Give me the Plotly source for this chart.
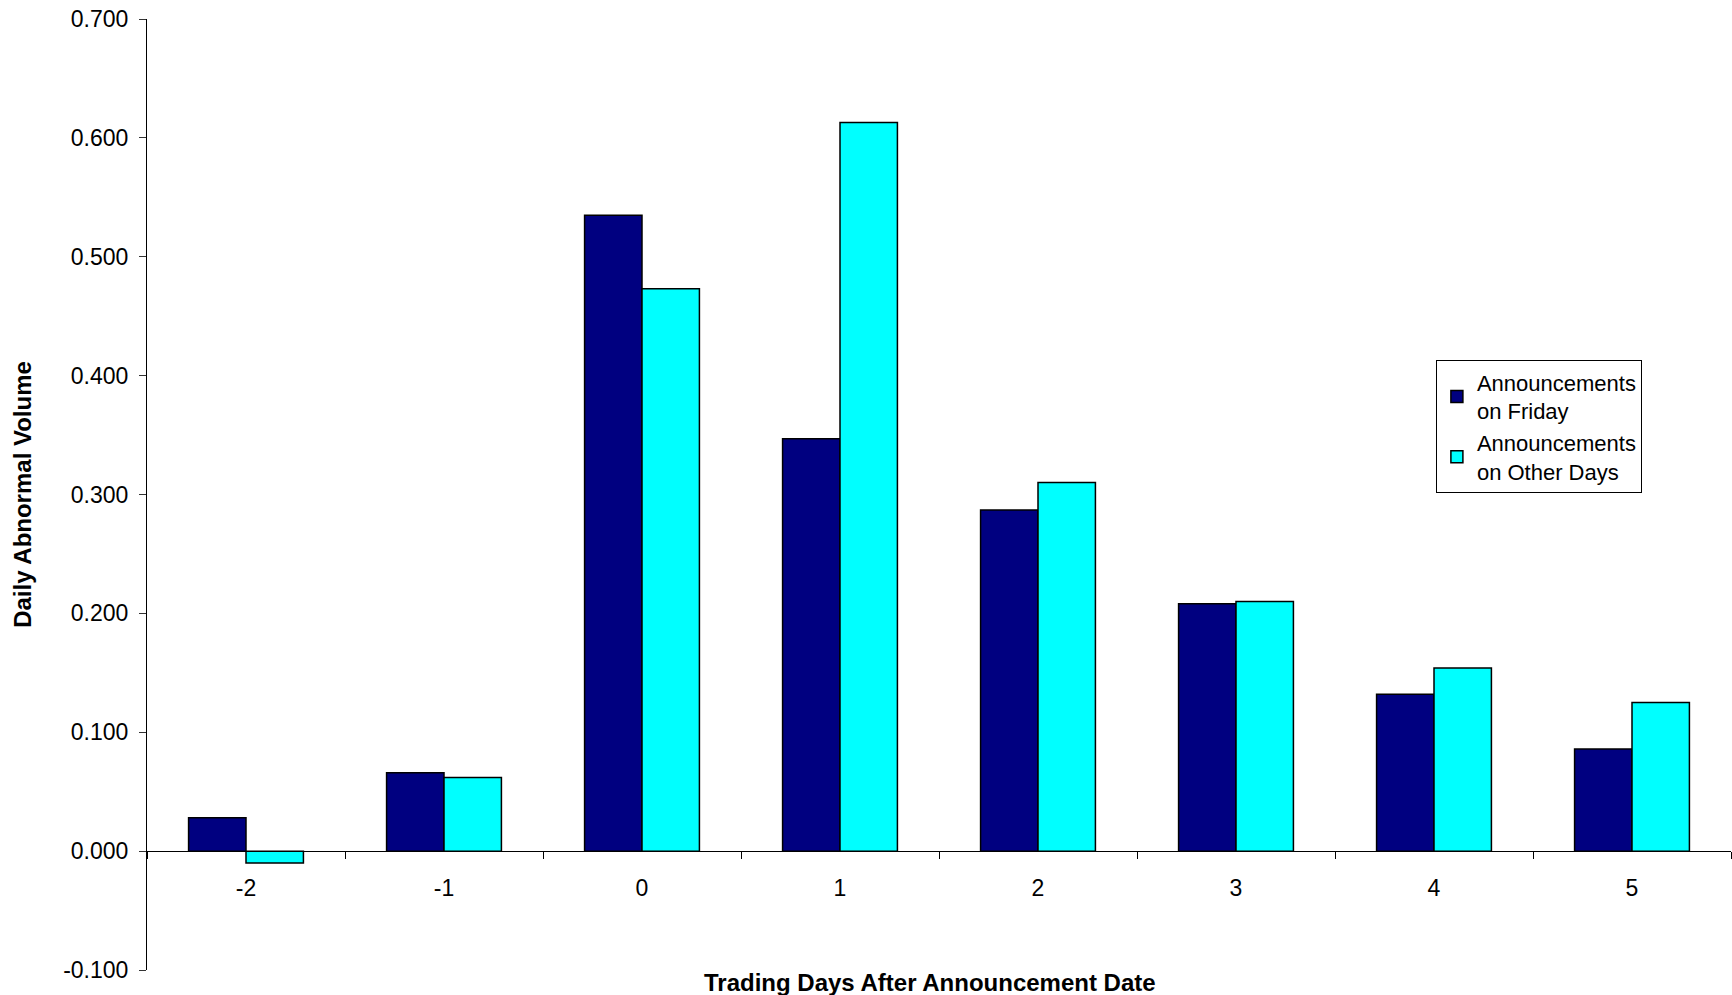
import plotly.graph_objects as go

days = ["-2", "-1", "0", "1", "2", "3", "4", "5"]
friday = [0.028, 0.066, 0.535, 0.347, 0.287, 0.208, 0.132, 0.086]
other_days = [-0.010, 0.062, 0.473, 0.613, 0.310, 0.210, 0.154, 0.125]
y_ticks = [-0.1, 0.0, 0.1, 0.2, 0.3, 0.4, 0.5, 0.6, 0.7]
y_tick_text = ["-0.100", "0.000", "0.100", "0.200", "0.300", "0.400", "0.500", "0.600", "0.700"]

FONT = "Liberation Sans, Arial, sans-serif"

fig = go.Figure()
fig.add_trace(go.Bar(
    x=days, y=friday, name="Announcements<br>on Friday",
    marker=dict(color="#000080", line=dict(color="black", width=1.5)),
))
fig.add_trace(go.Bar(
    x=days, y=other_days, name="Announcements<br>on Other Days",
    marker=dict(color="#00FFFF", line=dict(color="black", width=1.5)),
))

ymin, ymax = -0.1, 0.7
zero_pos = (0 - ymin) / (ymax - ymin)

fig.update_layout(
    width=1732, height=995,
    margin=dict(l=147, r=1, t=19, b=25),
    plot_bgcolor="white", paper_bgcolor="white",
    barmode="group", bargap=0.42, bargroupgap=0,
    font=dict(family=FONT, size=23, color="black"),
    showlegend=True,
    legend=dict(
        x=0.8137, y=0.641, xanchor="left", yanchor="top",
        bgcolor="white", bordercolor="black", borderwidth=1,
        font=dict(family=FONT, size=22, color="black"),
        tracegroupgap=0,
    ),
    xaxis=dict(
        type="category", anchor="free", position=zero_pos,
        showline=True, linecolor="black", linewidth=1,
        ticks="outside", tickson="boundaries", ticklen=7, tickcolor="black",
        ticklabelstandoff=16,
        showgrid=False, zeroline=False,
        tickfont=dict(family=FONT, size=23, color="black"),
    ),
    yaxis=dict(
        range=[ymin, ymax], tickvals=y_ticks, ticktext=y_tick_text,
        showline=True, linecolor="black", linewidth=1,
        ticks="outside", ticklen=7, tickcolor="#333333",
        ticklabelstandoff=6,
        showgrid=False, zeroline=False,
        tickfont=dict(family=FONT, size=23, color="black"),
        title=dict(text="<b>Daily Abnormal Volume</b>", standoff=24,
                   font=dict(family=FONT, size=24, color="black")),
    ),
    annotations=[dict(
        text="<b>Trading Days After Announcement Date</b>",
        xref="paper", yref="paper", x=0.5, y=0, xshift=-9, yshift=-12,
        xanchor="center", yanchor="middle", showarrow=False,
        font=dict(family=FONT, size=24, color="black"),
    )],
)

fig.write_html("out.html", config={"displayModeBar": False},
               post_script="document.body.style.margin='0';")
